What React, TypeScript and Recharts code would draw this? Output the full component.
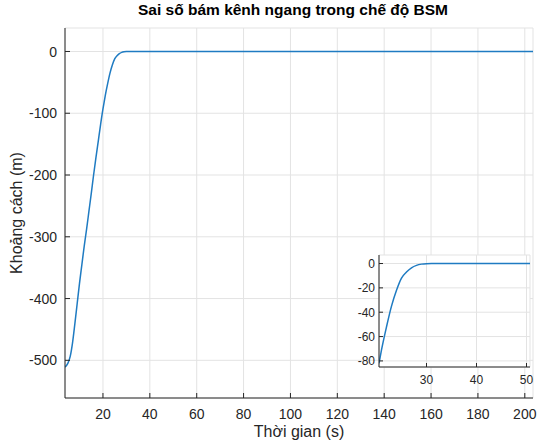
import { LineChart, Line, XAxis, YAxis, CartesianGrid } from "recharts";

// time (s) and tracking error (m)
const time = [
  3.8, 5, 6, 7, 8, 9, 10, 11, 12, 13, 14, 15, 16, 17, 18, 19, 20, 20.5, 21, 22,
  23, 24, 25, 26, 27, 28, 29, 30, 31, 35, 40, 50, 60, 80, 100, 120, 140, 160,
  180, 200, 203.5,
];
const error = [
  -511, -505, -494, -472, -441, -408, -375, -345, -315, -288, -259, -230, -200,
  -172, -145, -118, -93, -82, -71, -52, -35, -22, -12, -7, -3.5, -1.5, -0.5,
  -0.1, 0, 0, 0, 0, 0, 0, 0, 0, 0, 0, 0, 0, 0,
];

const mainXTicks = [20, 40, 60, 80, 100, 120, 140, 160, 180, 200];
const mainYTicks = [-500, -400, -300, -200, -100, 0];
const zoomXTicks = [30, 40, 50];
const zoomYTicks = [-80, -60, -40, -20, 0];

const data = time.map((t, i) => ({ t, e: error[i] }));
const zoomData = data.filter((d) => d.t >= 20.5);

const FONT = "'Liberation Sans', Arial, Helvetica, sans-serif";
const INK = "#262626";
const GRID = "#e3e3e3";
const BLUE = "#1f7bc2";

const makeTick =
  (side: "left" | "right" | "bottom" | "top", len: number, fontSize: number, gap: number) =>
  (props: any) => {
    const { x, y, payload } = props;
    let line;
    let label = null;
    if (side === "left") {
      line = <line x1={x} x2={x + len} y1={y} y2={y} stroke={INK} />;
      label = (
        <text x={x - gap} y={y} dy="0.36em" textAnchor="end" fill={INK} fontSize={fontSize} fontFamily={FONT}>
          {payload.value}
        </text>
      );
    } else if (side === "right") {
      line = <line x1={x} x2={x - len} y1={y} y2={y} stroke={INK} />;
    } else if (side === "bottom") {
      line = <line x1={x} x2={x} y1={y} y2={y - len} stroke={INK} />;
      label = (
        <text x={x} y={y + gap} textAnchor="middle" fill={INK} fontSize={fontSize} fontFamily={FONT}>
          {payload.value}
        </text>
      );
    } else {
      line = <line x1={x} x2={x} y1={y} y2={y + len} stroke={INK} />;
    }
    return (
      <g>
        {line}
        {label}
      </g>
    );
  };

export default function App() {
  return (
    <div style={{ position: "absolute", left: 0, top: 0, width: 537, height: 447, background: "#fff", fontFamily: FONT }}>
      <div
        style={{
          position: "absolute",
          left: 0,
          width: 586,
          top: 1,
          textAlign: "center",
          fontSize: 15.5,
          fontWeight: "bold",
          color: "#000",
          whiteSpace: "nowrap",
        }}
      >
        Sai số bám kênh ngang trong chế độ BSM
      </div>

      <LineChart
        width={537}
        height={447}
        data={data}
        margin={{ top: 28, right: 4, left: 0, bottom: 19 }}
        style={{ position: "absolute", left: 0, top: 0 }}
      >
        <CartesianGrid stroke={GRID} />
        <XAxis
          dataKey="t"
          type="number"
          domain={[3.8, 203.5]}
          ticks={mainXTicks}
          allowDataOverflow
          height={30}
          tickSize={0}
          tickMargin={0}
          tickLine={false}
          axisLine={{ stroke: INK }}
          tick={makeTick("bottom", 5, 14, 21)}
        />
        <XAxis
          xAxisId="top"
          orientation="top"
          dataKey="t"
          type="number"
          domain={[3.8, 203.5]}
          ticks={mainXTicks}
          allowDataOverflow
          height={0}
          tickSize={0}
          tickMargin={0}
          tickLine={false}
          axisLine={{ stroke: INK }}
          tick={makeTick("top", 5, 14, 0)}
        />
        <YAxis
          type="number"
          domain={[-561, 38]}
          ticks={mainYTicks}
          allowDataOverflow
          width={65}
          tickSize={0}
          tickMargin={0}
          tickLine={false}
          axisLine={{ stroke: INK }}
          tick={makeTick("left", 5, 14, 8)}
        />
        <YAxis
          yAxisId="right"
          orientation="right"
          type="number"
          domain={[-561, 38]}
          ticks={mainYTicks}
          allowDataOverflow
          width={0}
          tickSize={0}
          tickMargin={0}
          tickLine={false}
          axisLine={{ stroke: INK }}
          tick={makeTick("right", 5, 14, 0)}
        />
        <Line type="monotone" dataKey="e" stroke={BLUE} strokeWidth={1.5} dot={false} isAnimationActive={false} />
      </LineChart>

      <div
        style={{
          position: "absolute",
          left: 0,
          width: 598,
          top: 423,
          textAlign: "center",
          fontSize: 16,
          color: INK,
          whiteSpace: "nowrap",
        }}
      >
        Thời gian (s)
      </div>
      <div
        style={{
          position: "absolute",
          left: 17,
          top: 213,
          transform: "translate(-50%, -50%) rotate(-90deg)",
          fontSize: 16,
          color: INK,
          whiteSpace: "nowrap",
        }}
      >
        Khoảng cách (m)
      </div>

      <LineChart
        width={190}
        height={143}
        data={zoomData}
        margin={{ top: 5, right: 5, left: 0, bottom: 8 }}
        style={{ position: "absolute", left: 345, top: 250 }}
      >
        <CartesianGrid stroke={GRID} fill="#fff" fillOpacity={1} />
        <XAxis
          dataKey="t"
          type="number"
          domain={[20.5, 50.7]}
          ticks={zoomXTicks}
          allowDataOverflow
          height={18}
          tickSize={0}
          tickMargin={0}
          tickLine={false}
          axisLine={{ stroke: INK }}
          tick={makeTick("bottom", 4, 12, 17)}
        />
        <XAxis
          xAxisId="top"
          orientation="top"
          dataKey="t"
          type="number"
          domain={[20.5, 50.7]}
          ticks={zoomXTicks}
          allowDataOverflow
          height={0}
          tickSize={0}
          tickMargin={0}
          tickLine={false}
          axisLine={{ stroke: INK }}
          tick={makeTick("top", 4, 12, 0)}
        />
        <YAxis
          type="number"
          domain={[-85, 7]}
          ticks={zoomYTicks}
          allowDataOverflow
          width={34}
          tickSize={0}
          tickMargin={0}
          tickLine={false}
          axisLine={{ stroke: INK }}
          tick={makeTick("left", 4, 12, 4)}
        />
        <YAxis
          yAxisId="right"
          orientation="right"
          type="number"
          domain={[-85, 7]}
          ticks={zoomYTicks}
          allowDataOverflow
          width={0}
          tickSize={0}
          tickMargin={0}
          tickLine={false}
          axisLine={{ stroke: INK }}
          tick={makeTick("right", 4, 12, 0)}
        />
        <Line type="monotone" dataKey="e" stroke={BLUE} strokeWidth={1.5} dot={false} isAnimationActive={false} />
      </LineChart>
    </div>
  );
}
